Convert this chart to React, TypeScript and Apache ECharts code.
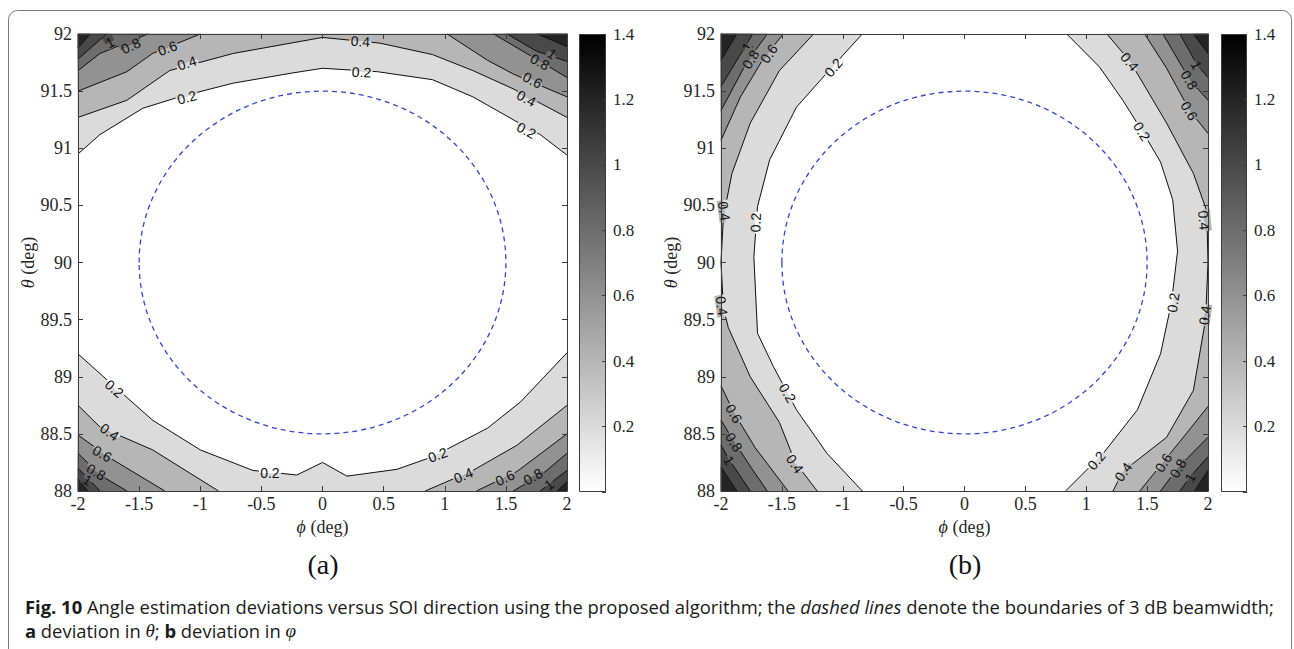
import React, { useEffect, useRef } from 'react';
import * as echarts from 'echarts';

type Pt = [number, number];
interface Contour { level: number; pts: Pt[]; close: Pt[]; }
// [phi, theta, text, angle (deg, CCW), higher band on local top (1) or bottom (0)]
type Label = [number, number, string, number, number];

const PHI_MIN = -2;
const PHI_MAX = 2;
const THETA_MIN = 88;
const THETA_MAX = 92;
const TICK_STEP = 0.5;
const CBAR_MIN = 0;
const CBAR_MAX = 1.4;
const CBAR_STEP = 0.2;
const BEAM_CENTER: Pt = [0, 90];
const BEAM_RADIUS = 1.5;

// ---------- panel (a): deviation in theta ----------
const A_CONTOURS: Contour[] = [
  { level: 0.2, pts: [[-2, 90.95], [-1.82, 91.12], [-1.47, 91.35], [-1.17, 91.45], [-0.73, 91.57], [-0.24, 91.66], [0, 91.7], [0.45, 91.67], [0.9, 91.6], [1.23, 91.45], [1.56, 91.25], [1.78, 91.12], [2, 90.94]], close: [[2, 92], [-2, 92]] },
  { level: 0.4, pts: [[-2, 91.27], [-1.6, 91.42], [-1.25, 91.68], [-0.73, 91.83], [0, 91.97], [0.47, 91.92], [0.9, 91.82], [1.23, 91.68], [1.56, 91.52], [2, 91.27]], close: [[2, 92], [-2, 92]] },
  { level: 0.6, pts: [[-2, 91.5], [-1.6, 91.67], [-1.39, 91.83], [-1.0, 92]], close: [[-2, 92]] },
  { level: 0.6, pts: [[1.02, 92], [1.35, 91.77], [1.56, 91.65], [2, 91.45]], close: [[2, 92]] },
  { level: 0.8, pts: [[-2, 91.68], [-1.82, 91.83], [-1.43, 92]], close: [[-2, 92]] },
  { level: 0.8, pts: [[1.4, 92], [1.67, 91.83], [2, 91.62]], close: [[2, 92]] },
  { level: 1.0, pts: [[-2, 91.78], [-1.82, 91.95], [-1.76, 92]], close: [[-2, 92]] },
  { level: 1.0, pts: [[1.51, 92], [1.75, 91.85], [2, 91.76]], close: [[2, 92]] },
  { level: 1.2, pts: [[-2, 91.88], [-1.9, 92]], close: [[-2, 92]] },
  { level: 1.2, pts: [[1.76, 92], [2, 91.89]], close: [[2, 92]] },
  { level: 0.2, pts: [[-2, 89.2], [-1.76, 88.97], [-1.39, 88.62], [-1.0, 88.36], [-0.57, 88.18], [-0.21, 88.14], [0, 88.25], [0.2, 88.13], [0.61, 88.19], [0.9, 88.3], [1.35, 88.55], [1.62, 88.78], [2, 89.21]], close: [[2, 88], [-2, 88]] },
  { level: 0.4, pts: [[-2, 88.75], [-1.82, 88.56], [-1.39, 88.36], [-0.85, 88]], close: [[-2, 88]] },
  { level: 0.4, pts: [[0.84, 88], [1.23, 88.18], [1.59, 88.4], [2, 88.75]], close: [[2, 88]] },
  { level: 0.6, pts: [[-2, 88.49], [-1.74, 88.29], [-1.29, 88]], close: [[-2, 88]] },
  { level: 0.6, pts: [[1.26, 88], [1.59, 88.17], [2, 88.5]], close: [[2, 88]] },
  { level: 0.8, pts: [[-2, 88.33], [-1.82, 88.14], [-1.6, 88]], close: [[-2, 88]] },
  { level: 0.8, pts: [[1.56, 88], [1.8, 88.15], [2, 88.33]], close: [[2, 88]] },
  { level: 1.0, pts: [[-2, 88.2], [-1.82, 88]], close: [[-2, 88]] },
  { level: 1.0, pts: [[1.78, 88], [2, 88.18]], close: [[2, 88]] },
  { level: 1.2, pts: [[-2, 88.1], [-1.92, 88]], close: [[-2, 88]] },
  { level: 1.2, pts: [[1.92, 88], [2, 88.08]], close: [[2, 88]] },
];

const A_LABELS: Label[] = [
  [-1.74, 91.93, '1', 28, 1],
  [-1.57, 91.9, '0.8', 25, 1],
  [-1.27, 91.88, '0.6', 20, 1],
  [-1.11, 91.75, '0.4', 18, 1],
  [-1.11, 91.45, '0.2', 15, 1],
  [0.31, 91.94, '0.4', -3, 1],
  [0.32, 91.67, '0.2', -3, 1],
  [1.88, 91.83, '1', -35, 1],
  [1.78, 91.76, '0.8', -28, 1],
  [1.72, 91.6, '0.6', -28, 1],
  [1.67, 91.44, '0.4', -28, 1],
  [1.67, 91.16, '0.2', -28, 1],
  [-1.7, 88.9, '0.2', -40, 0],
  [-1.74, 88.52, '0.4', -35, 0],
  [-1.8, 88.33, '0.6', -30, 0],
  [-1.85, 88.17, '0.8', -30, 0],
  [-1.92, 88.1, '1', -30, 0],
  [-0.43, 88.16, '0.2', 0, 0],
  [0.94, 88.32, '0.2', 20, 0],
  [1.15, 88.14, '0.4', 22, 0],
  [1.49, 88.12, '0.6', 25, 0],
  [1.72, 88.13, '0.8', 30, 0],
  [1.85, 88.06, '1', 35, 0],
];

// ---------- panel (b): deviation in phi ----------
const B_CONTOURS: Contour[] = [
  { level: 0.2, pts: [[-0.84, 92], [-1.13, 91.66], [-1.38, 91.36], [-1.6, 90.9], [-1.7, 90.49], [-1.73, 90.05], [-1.7, 89.38], [-1.57, 89.09], [-1.38, 88.71], [-1.13, 88.33], [-0.84, 88]], close: [[-2, 88], [-2, 92]] },
  { level: 0.4, pts: [[-1.24, 92], [-1.52, 91.68], [-1.76, 91.22], [-1.91, 90.78], [-1.98, 90.4], [-2, 90.0], [-1.98, 89.6], [-1.94, 89.43], [-1.76, 89.0], [-1.52, 88.6], [-1.39, 88.25], [-1.21, 88]], close: [[-2, 88], [-2, 92]] },
  { level: 0.6, pts: [[-1.49, 92], [-1.66, 91.77], [-1.84, 91.45], [-2, 91.07]], close: [[-2, 92]] },
  { level: 0.6, pts: [[-2, 88.92], [-1.89, 88.68], [-1.72, 88.38], [-1.45, 88]], close: [[-2, 88]] },
  { level: 0.8, pts: [[-1.62, 92], [-1.79, 91.75], [-2, 91.33]], close: [[-2, 92]] },
  { level: 0.8, pts: [[-2, 88.62], [-1.89, 88.43], [-1.75, 88.2], [-1.62, 88]], close: [[-2, 88]] },
  { level: 1.0, pts: [[-1.74, 92], [-2, 91.54]], close: [[-2, 92]] },
  { level: 1.0, pts: [[-2, 88.4], [-1.93, 88.27], [-1.76, 88]], close: [[-2, 88]] },
  { level: 1.2, pts: [[-1.87, 92], [-2, 91.77]], close: [[-2, 92]] },
  { level: 1.2, pts: [[-2, 88.21], [-1.87, 88]], close: [[-2, 88]] },
  { level: 0.2, pts: [[0.84, 92], [1.11, 91.71], [1.3, 91.42], [1.46, 91.15], [1.61, 90.88], [1.71, 90.55], [1.75, 90.1], [1.7, 89.65], [1.61, 89.2], [1.42, 88.71], [1.14, 88.33], [0.83, 88]], close: [[2, 88], [2, 92]] },
  { level: 0.4, pts: [[1.17, 92], [1.36, 91.76], [1.66, 91.22], [1.88, 90.78], [1.99, 90.45], [2, 90.0], [1.98, 89.5], [1.88, 88.88], [1.66, 88.47], [1.3, 88.17], [1.22, 88]], close: [[2, 88], [2, 92]] },
  { level: 0.6, pts: [[1.48, 92], [1.66, 91.7], [1.85, 91.33], [2, 91.13]], close: [[2, 92]] },
  { level: 0.6, pts: [[1.44, 88], [1.63, 88.25], [1.82, 88.5], [2, 88.74]], close: [[2, 88]] },
  { level: 0.8, pts: [[1.63, 92], [1.85, 91.6], [2, 91.42]], close: [[2, 92]] },
  { level: 0.8, pts: [[1.61, 88], [1.75, 88.2], [2, 88.47]], close: [[2, 88]] },
  { level: 1.0, pts: [[1.77, 92], [1.91, 91.73], [2, 91.62]], close: [[2, 92]] },
  { level: 1.0, pts: [[1.77, 88], [1.85, 88.12], [2, 88.3]], close: [[2, 88]] },
  { level: 1.2, pts: [[1.88, 92], [2, 91.83]], close: [[2, 92]] },
  { level: 1.2, pts: [[1.89, 88], [2, 88.18]], close: [[2, 88]] },
];

const B_LABELS: Label[] = [
  [-1.79, 91.89, '1', 60, 1],
  [-1.76, 91.78, '0.8', 58, 1],
  [-1.61, 91.83, '0.6', 55, 1],
  [-1.08, 91.71, '0.2', 50, 1],
  [-1.97, 90.45, '0.4', -82, 0],
  [-1.72, 90.35, '0.2', 88, 1],
  [-1.99, 89.62, '0.4', -82, 0],
  [-1.45, 88.86, '0.2', -60, 0],
  [-1.89, 88.68, '0.6', -60, 0],
  [-1.89, 88.43, '0.8', -58, 0],
  [-1.93, 88.27, '1', -58, 0],
  [-1.39, 88.24, '0.4', -55, 0],
  [1.36, 91.76, '0.4', -50, 1],
  [1.46, 91.15, '0.2', -58, 1],
  [1.91, 91.73, '1', -62, 1],
  [1.85, 91.6, '0.8', -60, 1],
  [1.85, 91.33, '0.6', -60, 1],
  [1.97, 90.37, '0.4', -85, 1],
  [1.71, 89.65, '0.2', 82, 0],
  [1.97, 89.54, '0.4', 82, 0],
  [1.08, 88.27, '0.2', 50, 0],
  [1.3, 88.17, '0.4', 55, 0],
  [1.63, 88.25, '0.6', 58, 0],
  [1.75, 88.2, '0.8', 60, 0],
  [1.85, 88.12, '1', 60, 0],
];

const PANEL_TITLES = ['(a)', '(b)'];
const CAPTION_1 = '{b|Fig. 10} Angle estimation deviations versus SOI direction using the proposed algorithm; the {i|dashed lines} denote the boundaries of 3 dB beamwidth;';
const CAPTION_2 = '{b|a} deviation in {m|θ}; {b|b} deviation in {m|φ}';

// ---------- styling helpers ----------
const AXIS_COLOR = '#3a3a3a';
const TEXT_COLOR = '#262626';
const SERIF = 'Liberation Serif';
const SANS = 'Liberation Sans';
const CAP_FONT = 'Open Sans';
const TICK_SIZE = 18;

function bandColor(level: number): string {
  const g = level <= 0.001 ? 255 : Math.round(255 * (1 - level / CBAR_MAX));
  const h = g.toString(16).padStart(2, '0');
  return `#${h}${h}${h}`;
}

const tickText = { fontFamily: SERIF, fontSize: TICK_SIZE, color: TEXT_COLOR };

function mainAxes(grid: number) {
  const common = {
    type: 'value',
    gridIndex: grid,
    z: 10,
    splitLine: { show: false },
    axisTick: { show: true, inside: true, length: 5, lineStyle: { color: AXIS_COLOR, width: 1 } },
    axisLine: { show: true, onZero: false, lineStyle: { color: AXIS_COLOR, width: 1 } },
  };
  const xs = [
    {
      ...common, position: 'bottom', min: PHI_MIN, max: PHI_MAX, interval: TICK_STEP,
      axisLabel: { fontFamily: SERIF, fontSize: TICK_SIZE, color: TEXT_COLOR, margin: 4, formatter: (v: number) => String(v) },
      name: '{i|ϕ} (deg)', nameLocation: 'middle', nameGap: 15,
      nameTextStyle: { ...tickText, rich: { i: { ...tickText, fontStyle: 'italic' } } },
    },
    { ...common, position: 'top', min: PHI_MIN, max: PHI_MAX, interval: TICK_STEP, axisLabel: { show: false } },
  ];
  const ys = [
    {
      ...common, position: 'left', min: THETA_MIN, max: THETA_MAX, interval: TICK_STEP,
      axisLabel: { fontFamily: SERIF, fontSize: TICK_SIZE, color: TEXT_COLOR, margin: 6, formatter: (v: number) => String(v) },
      name: '{i|θ} (deg)', nameLocation: 'middle', nameGap: 36,
      nameTextStyle: { ...tickText, rich: { i: { ...tickText, fontStyle: 'italic' } } },
    },
    { ...common, position: 'right', min: THETA_MIN, max: THETA_MAX, interval: TICK_STEP, axisLabel: { show: false } },
  ];
  return { xs, ys };
}

function cbarAxes(grid: number) {
  const x = { type: 'value', gridIndex: grid, min: 0, max: 1, show: false };
  const y = {
    type: 'value', gridIndex: grid, position: 'right', min: CBAR_MIN, max: CBAR_MAX, interval: CBAR_STEP, z: 10,
    splitLine: { show: false },
    axisLine: { show: false, onZero: false },
    axisTick: { show: true, inside: true, length: 4, lineStyle: { color: AXIS_COLOR } },
    axisLabel: { fontFamily: SERIF, fontSize: 17, color: TEXT_COLOR, margin: 7, formatter: (v: number) => (v === 0 ? '' : String(v)) },
  };
  return { x, y };
}

function panelSeries(p: number, contours: Contour[], labels: Label[]) {
  const axisIdx = { xAxisIndex: p * 2, yAxisIndex: p * 2 };
  const sorted = [...contours].sort((a, b) => a.level - b.level);
  const fills = {
    type: 'custom', ...axisIdx, z: 1, silent: true,
    data: sorted.map((c) => c.pts[0]),
    renderItem: (params: any, api: any) => {
      const c = sorted[params.dataIndex];
      const points = [...c.pts, ...c.close].map((q) => api.coord(q));
      const col = bandColor(c.level);
      return { type: 'polygon', z2: c.level * 10, shape: { points }, style: { fill: col, stroke: col, lineWidth: 0.5 } };
    },
  };
  const lines = {
    type: 'custom', ...axisIdx, z: 2, silent: true,
    data: sorted.map((c) => c.pts[0]),
    renderItem: (params: any, api: any) => {
      const c = sorted[params.dataIndex];
      const points = c.pts.map((q) => api.coord(q));
      return { type: 'polyline', shape: { points }, style: { fill: 'none', stroke: '#111', lineWidth: 1 } };
    },
  };
  const beam = {
    type: 'custom', ...axisIdx, z: 3, silent: true,
    data: [[BEAM_CENTER[0], BEAM_CENTER[1], BEAM_RADIUS]],
    renderItem: (params: any, api: any) => {
      const c = api.coord([api.value(0), api.value(1)]);
      const s = api.size([api.value(2), api.value(2)]);
      return {
        type: 'ellipse',
        shape: { cx: c[0], cy: c[1], rx: s[0], ry: s[1] },
        style: { fill: 'none', stroke: '#3345cf', lineWidth: 1.3, lineDash: [5, 4] },
      };
    },
  };
  const labelSeries = {
    type: 'custom', ...axisIdx, z: 4, silent: true,
    data: labels.map((l) => [l[0], l[1]]),
    renderItem: (params: any, api: any) => {
      const l = labels[params.dataIndex];
      const pos = api.coord([l[0], l[1]]);
      const lv = parseFloat(l[2]);
      const hi = bandColor(lv);
      const lo = bandColor(lv - 0.2);
      const top = l[4] ? hi : lo;
      const bot = l[4] ? lo : hi;
      const w = l[2].length === 1 ? 10 : 22;
      const h = 13;
      return {
        type: 'group',
        x: pos[0], y: pos[1], rotation: (l[3] * Math.PI) / 180,
        children: [
          {
            type: 'rect',
            shape: { x: -w / 2, y: -h / 2, width: w, height: h },
            style: {
              fill: new echarts.graphic.LinearGradient(0, 0, 0, 1, [
                { offset: 0, color: top }, { offset: 0.5, color: top },
                { offset: 0.5, color: bot }, { offset: 1, color: bot },
              ]),
            },
          },
          {
            type: 'text',
            style: {
              text: l[2], x: 0, y: 0.5, align: 'center', verticalAlign: 'middle',
              fontFamily: SANS, fontSize: 14, fill: '#111',
            },
          },
        ],
      };
    },
  };
  const cbar = {
    type: 'custom', xAxisIndex: 4 + p, yAxisIndex: 4 + p, z: 1, silent: true,
    data: [[0, CBAR_MAX]],
    renderItem: (params: any, api: any) => {
      const a = api.coord([0, CBAR_MAX]);
      const b = api.coord([1, CBAR_MIN]);
      return {
        type: 'rect',
        shape: { x: a[0] + 0.5, y: a[1] + 0.5, width: b[0] - a[0] - 1, height: b[1] - a[1] - 1 },
        style: {
          fill: new echarts.graphic.LinearGradient(0, 0, 0, 1, [
            { offset: 0, color: '#000' }, { offset: 1, color: '#fff' },
          ]),
          stroke: AXIS_COLOR, lineWidth: 1,
        },
      };
    },
  };
  return [fills, lines, beam, labelSeries, cbar];
}

function buildOption() {
  const a = mainAxes(0);
  const b = mainAxes(1);
  const ca = cbarAxes(2);
  const cb = cbarAxes(3);
  const capFont = { fontFamily: CAP_FONT, fontSize: 18.4, fill: '#1a1a1a' };
  return {
    animation: false,
    backgroundColor: '#ffffff',
    textStyle: { fontFamily: SERIF },
    grid: [
      { left: 78, top: 34, width: 489, height: 457, outerBoundsMode: 'none' },
      { left: 721, top: 34, width: 487, height: 457, outerBoundsMode: 'none' },
      { left: 579, top: 34, width: 27, height: 458, outerBoundsMode: 'none' },
      { left: 1221, top: 34, width: 26, height: 458, outerBoundsMode: 'none' },
    ],
    xAxis: [...a.xs, ...b.xs, ca.x, cb.x],
    yAxis: [...a.ys, ...b.ys, ca.y, cb.y],
    series: [...panelSeries(0, A_CONTOURS, A_LABELS), ...panelSeries(1, B_CONTOURS, B_LABELS)],
    graphic: [
      {
        type: 'rect', silent: true, z: -1,
        shape: { x: 8.5, y: 10.5, width: 1283, height: 720, r: 9 },
        style: { fill: 'none', stroke: '#7a7a7a', lineWidth: 1 },
      },
      {
        type: 'text', x: 323, y: 564, silent: true,
        style: { text: PANEL_TITLES[0], fontFamily: SERIF, fontSize: 28, fill: '#111', align: 'center', verticalAlign: 'middle' },
      },
      {
        type: 'text', x: 965, y: 564, silent: true,
        style: { text: PANEL_TITLES[1], fontFamily: SERIF, fontSize: 28, fill: '#111', align: 'center', verticalAlign: 'middle' },
      },
      {
        type: 'text', x: 25, y: 606, silent: true,
        style: {
          text: CAPTION_1, ...capFont, verticalAlign: 'middle',
          rich: {
            b: { ...capFont, fontWeight: 'bold' },
            i: { ...capFont, fontStyle: 'italic' },
          },
        },
      },
      {
        type: 'text', x: 25, y: 630, silent: true,
        style: {
          text: CAPTION_2, ...capFont, verticalAlign: 'middle',
          rich: {
            b: { ...capFont, fontWeight: 'bold' },
            m: { ...capFont, fontFamily: SERIF, fontStyle: 'italic', fontSize: 19 },
          },
        },
      },
    ],
  };
}

export default function App() {
  const ref = useRef<HTMLDivElement>(null);
  useEffect(() => {
    if (!ref.current) return;
    const chart = echarts.init(ref.current, null, { renderer: 'svg' });
    chart.setOption(buildOption() as any);
    return () => chart.dispose();
  }, []);
  return (
    <div
      ref={ref}
      style={{ position: 'fixed', left: 0, top: 0, width: 1294, height: 649, background: '#fff' }}
    />
  );
}
